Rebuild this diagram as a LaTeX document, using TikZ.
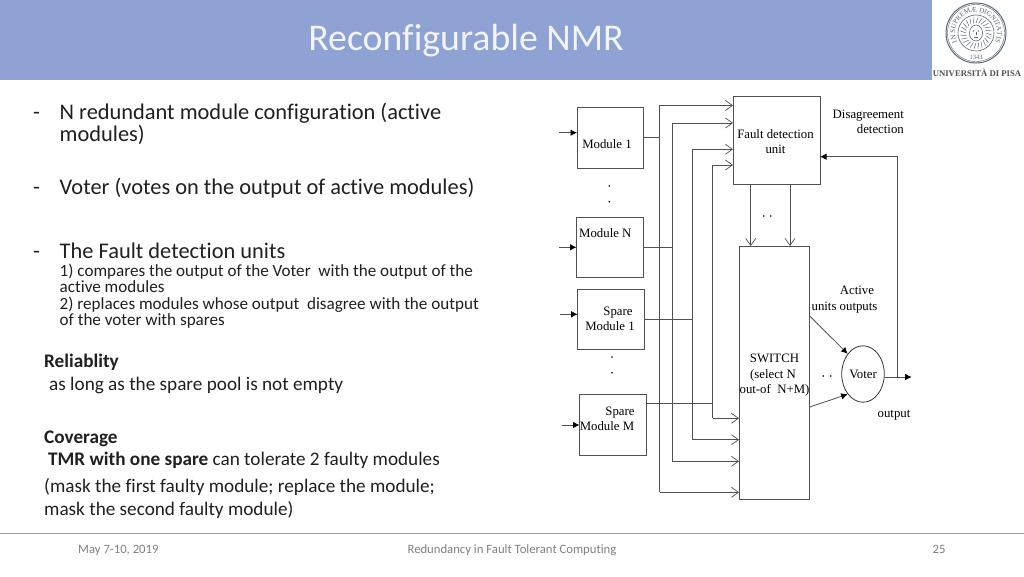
\documentclass[tikz,border=0pt]{standalone}
\usepackage{fontspec}
\setmainfont[Ligatures=NoCommon]{Carlito}
\newfontfamily\tnr{Liberation Serif}
\usetikzlibrary{arrows.meta,decorations.text,shapes.geometric}
\definecolor{band}{HTML}{8FA2D4}
\definecolor{titlec}{HTML}{F2F4FA}
\definecolor{bodyc}{HTML}{202020}
\definecolor{footc}{HTML}{808080}
\definecolor{linec}{HTML}{505050}
\definecolor{sealc}{HTML}{5A6678}
\tikzset{
 x=1pt,y=-1pt,
 mbox/.style={draw=linec,line width=.8pt,fill=white,inner sep=0pt,outer sep=0pt,anchor=north west},
 wire/.style={draw=linec,line width=.8pt},
 openar/.style={wire,-{Straight Barb[length=7pt,width=10pt,line width=.7pt]}},
 solidar/.style={wire,-{Latex[length=6.5pt,width=6.5pt,black]}},
 dlabel/.style={font=\tnr\fontsize{12.8}{15.4}\selectfont,text=black,align=center,inner sep=0pt},
 body/.style={anchor=base west,inner sep=0pt,text=bodyc,font=\fontsize{22.4}{24}\selectfont},
 sub/.style={anchor=base west,inner sep=0pt,text=bodyc,font=\fontsize{17.1}{18}\selectfont},
 low/.style={anchor=base west,inner sep=0pt,text=bodyc,font=\fontsize{19.2}{22}\selectfont},
 foot/.style={inner sep=0pt,text=footc,font=\fontsize{12.7}{14}\selectfont},
 ddot/.style={circle,fill=black,inner sep=0pt,minimum size=1.8pt},
}
\begin{document}
\begin{tikzpicture}
\useasboundingbox (0,0) rectangle (1024,576);
\fill[white] (0,0) rectangle (1024,576);
\fill[band] (0,0) rectangle (932,80);
\node[inner sep=0pt,text=titlec,font=\fontsize{37.8}{40}\selectfont] (title) at (466,41) {Reconfigurable NMR};
% logo
\draw[sealc,line width=1pt] (976,33) circle[radius=30];
\draw[sealc,line width=.4pt] (976,33) circle[radius=28.5];
\draw[sealc,line width=.6pt] (976,33) circle[radius=18];
\foreach \a in {0,15,...,345}
  \draw[sealc,line width=.5pt] (976,33) ++(\a:10) -- ++(\a+20:6);
\fill[white] (976,33) circle[radius=9];
\draw[sealc,line width=.6pt] (976,33) ellipse[x radius=6.5,y radius=8];
\fill[sealc] (973.6,31) circle[radius=.8] (978.4,31) circle[radius=.8];
\draw[sealc,line width=.5pt] (976,31.5) -- (976,35) (974,37.5) -- (978,37.5);
\path[decorate,decoration={text along path,text align=center,text={|\tnr\fontsize{7}{8}\selectfont\color{sealc}|IN SUPREMÆ DIGNITATIS}}]
  (962.5,49.1) arc[start angle=130,end angle=410,radius=21];
\node[inner sep=0pt,text=sealc,font=\tnr\fontsize{6.5}{7}\selectfont] (year) at (976,57) {1343};
\node[inner sep=0pt,text=linec,font=\tnr\bfseries\fontsize{8.7}{9}\selectfont] (uni) at (977,73) {UNIVERSITÀ DI PISA};
% left text
\node[body] (b1) at (33,119) {-};
\node[body] (b1a) at (59.5,119) {N redundant module configuration (active};
\node[body] (b1b) at (59.5,141) {modules)};
\node[body] (b2) at (33,194) {-};
\node[body] (b2a) at (59.5,194) {Voter (votes on the output of active modules)};
\node[body] (b3) at (33,258) {-};
\node[body] (b3a) at (59.5,258) {The Fault detection units};
\node[sub] (s1) at (59.5,276) {1) compares the output of the Voter\ \ with the output of the};
\node[sub] (s2) at (59.5,292) {active modules};
\node[sub] (s3) at (59.5,309) {2) replaces modules whose output\ \ disagree with the output};
\node[sub] (s4) at (59.5,325) {of the voter with spares};
\node[low] (r1) at (44,367) {\textbf{Reliablity}};
\node[low] (r2) at (49,390) {as long as the spare pool is not empty};
\node[low] (c1) at (44,443) {\textbf{Coverage}};
\node[low] (c2) at (48,465) {\textbf{TMR with one spare} can tolerate 2 faulty modules};
\node[low] (c3) at (44,492) {(mask the first faulty module; replace the module;};
\node[low] (c4) at (44,515) {mask the second faulty module)};
% footer
\draw[draw=black!40,line width=.8pt] (0,533.5) -- (1024,533.5);
\node[foot,anchor=base west] (f1) at (78,553) {May 7-10, 2019};
\node[foot,anchor=base] (f2) at (512,553) {Redundancy in Fault Tolerant Computing};
\node[foot,anchor=base] (f3) at (939,553) {25};
% boxes
\node[mbox,minimum width=66pt,minimum height=61pt] (m1) at (577,107) {};
\node[mbox,minimum width=66.5pt,minimum height=60pt] (mN) at (576.5,217) {};
\node[mbox,minimum width=67pt,minimum height=59.5pt] (s1b) at (577.7,289.5) {};
\node[mbox,minimum width=67.2pt,minimum height=61pt] (sM) at (579.5,394) {};
\node[mbox,minimum width=87pt,minimum height=87.3pt] (fd) at (733,96.7) {};
\node[mbox,minimum width=70.7pt,minimum height=253pt] (sw) at (739,246) {};
% free input ends
\coordinate (i1) at (559,132.7);
\coordinate (i2) at (559,247.3);
\coordinate (i3) at (560,314.3);
\coordinate (i4) at (562,425);
\draw[solidar] (i1) -- (i1 -| m1.west);
\draw[solidar] (i2) -- (i2 -| mN.west);
\draw[solidar] (i3) -- (i3 -| s1b.west);
\draw[solidar] (i4) -- (i4 -| sM.west);
% bus corners
\coordinate (ta) at (659.5,105.5); \coordinate (tb) at (672.3,123);
\coordinate (tc) at (692.7,149.3); \coordinate (td) at (712.7,165);
\coordinate (ba) at (659.5,492.3); \coordinate (bb) at (672.3,461.3);
\coordinate (bc) at (692.7,439.7); \coordinate (bd) at (712.7,418.3);
\draw[openar] (ba) -- (ta) -- (ta -| fd.west);
\draw[openar] (bb) -- (tb) -- (tb -| fd.west);
\draw[openar] (bc) -- (tc) -- (tc -| fd.west);
\draw[openar] (bd) -- (td) -- (td -| fd.west);
\draw[openar] (ba) -- (ba -| sw.west);
\draw[openar] (bb) -- (bb -| sw.west);
\draw[openar] (bc) -- (bc -| sw.west);
\draw[openar] (bd) -- (bd -| sw.west);
% module outputs
\coordinate (o1) at (659.5,137.7); \coordinate (o2) at (672.3,247);
\coordinate (o3) at (692.7,319.3); \coordinate (o4) at (712.7,403.7);
\draw[wire] (o1 -| m1.east) -- (o1);
\draw[wire] (o2 -| mN.east) -- (o2);
\draw[wire] (o3 -| s1b.east) -- (o3);
\draw[wire] (o4 -| sM.east) -- (o4);
% box labels
\node[dlabel] (t1) at (607,144) {Module 1};
\node[dlabel,anchor=base west] (t2) at (579,237) {Module N};
\node[dlabel,anchor=base] (t3a) at (618,315) {Spare};
\node[dlabel,anchor=base] (t3b) at (610,330) {Module 1};
\node[dlabel,anchor=base] (t4a) at (620,415) {Spare};
\node[dlabel,anchor=base] (t4b) at (607,430) {Module M};
\node[ddot] (d1) at (609.3,186) {};
\node[ddot] (d2) at (609.3,201.7) {};
\node[ddot] (d3) at (612,357) {};
\node[ddot] (d4) at (612,372.7) {};
\node[ddot] (d5) at (763.7,216) {};
\node[ddot] (d6) at (770.7,216) {};
\node[ddot] (d7) at (823.3,376) {};
\node[ddot] (d8) at (830.7,376) {};
% FD to switch
\coordinate (dl) at (750.7,184); \coordinate (dr) at (790,184);
\draw[openar] (dl) -- (dl |- sw.north);
\draw[openar] (dr) -- (dr |- sw.north);
\node[dlabel] (fdt) at (775.5,141.5) {Fault detection\\unit};
\node[dlabel,anchor=base] (sw1) at (774.5,362) {SWITCH};
\node[dlabel,anchor=base] (sw2) at (773,378) {(select N};
\node[dlabel,anchor=base] (sw3) at (774.5,393) {out-of\ \ N+M)};
% voter
\node[draw=black!80,line width=.8pt,ellipse,minimum width=42.6pt,minimum height=56.4pt,dlabel] (voter) at (863,374) {\raisebox{-1.5pt}{Voter}};
\coordinate (sv1) at (809.7,316); \coordinate (sv2) at (809.7,407);
\coordinate (fb) at (897.7,156.7); \coordinate (fb2) at (897.7,377); \coordinate (out) at (911.7,377);
\draw[solidar] (sv1) -- (voter.north west);
\draw[solidar] (sv2) -- (voter.south west);
\draw[wire] (fb2) -- (fb);
\draw[solidar] (fb) -- (fb -| fd.east);
\draw[solidar] (out -| voter.east) -- (out);
\node[dlabel,anchor=base east] (a1) at (904,118) {Disagreement};
\node[dlabel,anchor=base east] (a2) at (904,133) {detection};
\node[dlabel,anchor=base] (a3) at (857,294) {Active};
\node[dlabel,anchor=base] (a4) at (844.5,310) {units outputs};
\node[dlabel,anchor=base] (a5) at (894,417.5) {output};
\end{tikzpicture}
\end{document}
